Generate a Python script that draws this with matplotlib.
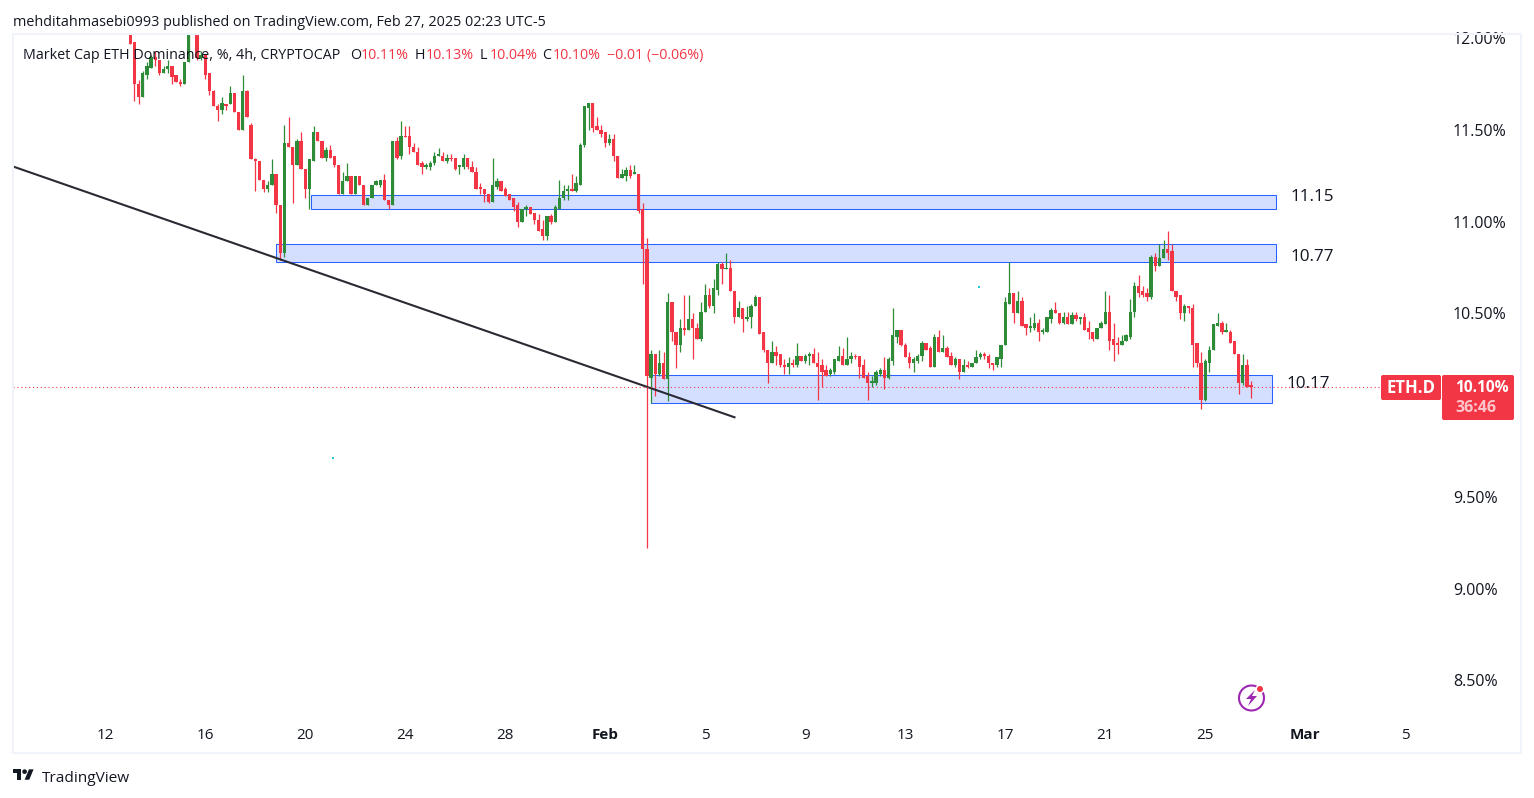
"""ETH dominance 4h chart, TradingView style."""
import matplotlib
matplotlib.use("Agg")
import matplotlib.dates as mdates
import matplotlib.pyplot as plt
import pandas as pd
from matplotlib.patches import Arc, Circle, FancyBboxPatch, Polygon, Rectangle

W, H = 1534, 798
FONT = "Open Sans"
RED = "#F23645"
GREEN = "#2E8B38"
BLUE = "#2962FF"
INK = "#131722"

plt.rcParams["font.family"] = [FONT, "DejaVu Sans"]

# 4h candles, first one Jan 13 00:00
first_candle = "2025-01-13 00:00"

open_ = [
    12.06, 11.98, 11.75, 11.68, 11.80, 11.84, 11.90, 11.88, 11.81, 11.83,
    11.85, 11.80, 11.76, 11.75, 11.87, 12.10, 12.08, 11.89, 11.91, 11.81,
    11.71, 11.63, 11.61, 11.64, 11.64, 11.70, 11.60, 11.50, 11.71, 11.53,
    11.34, 11.33, 11.23, 11.18, 11.20, 11.26, 11.09, 10.83, 11.43, 11.41,
    11.31, 11.44, 11.29, 11.18, 11.33, 11.49, 11.44, 11.35, 11.39, 11.36,
    11.31, 11.15, 11.22, 11.25, 11.15, 11.25, 11.20, 11.09, 11.13, 11.20,
    11.20, 11.23, 11.12, 11.09, 11.44, 11.36, 11.47, 11.47, 11.41, 11.38,
    11.32, 11.30, 11.30, 11.32, 11.36, 11.36, 11.33, 11.35, 11.35, 11.30,
    11.30, 11.35, 11.30, 11.27, 11.19, 11.18, 11.15, 11.11, 11.19, 11.22,
    11.18, 11.15, 11.13, 11.09, 11.00, 11.07, 11.08, 11.05, 11.01, 10.96,
    10.92, 11.03, 11.00, 11.07, 11.13, 11.17, 11.18, 11.17, 11.20, 11.42,
    11.62, 11.65, 11.52, 11.50, 11.49, 11.43, 11.45, 11.36, 11.24, 11.25,
    11.28, 11.26, 11.26, 11.07, 10.85, 10.15, 10.28, 10.17, 10.23, 10.14,
    10.56, 10.40, 10.33, 10.42, 10.41, 10.47, 10.42, 10.36, 10.51, 10.60,
    10.54, 10.63, 10.77, 10.74, 10.75, 10.62, 10.48, 10.53, 10.47, 10.48,
    10.54, 10.59, 10.40, 10.30, 10.23, 10.29, 10.28, 10.22, 10.21, 10.23,
    10.22, 10.27, 10.24, 10.27, 10.28, 10.23, 10.22, 10.19, 10.17, 10.18,
    10.24, 10.27, 10.22, 10.25, 10.27, 10.27, 10.22, 10.16, 10.12, 10.12,
    10.17, 10.19, 10.15, 10.24, 10.37, 10.41, 10.33, 10.26, 10.23, 10.24,
    10.27, 10.34, 10.31, 10.21, 10.37, 10.29, 10.31, 10.27, 10.22, 10.25,
    10.18, 10.22, 10.21, 10.23, 10.26, 10.28, 10.27, 10.23, 10.22, 10.25,
    10.33, 10.55, 10.61, 10.50, 10.57, 10.44, 10.42, 10.42, 10.45, 10.40,
    10.40, 10.47, 10.52, 10.50, 10.45, 10.48, 10.44, 10.49, 10.47, 10.48,
    10.42, 10.40, 10.36, 10.42, 10.44, 10.51, 10.36, 10.34, 10.33, 10.35,
    10.37, 10.51, 10.65, 10.62, 10.61, 10.59, 10.81, 10.76, 10.80, 10.85,
    10.84, 10.62, 10.60, 10.50, 10.54, 10.53, 10.34, 10.23, 10.03, 10.23,
    10.30, 10.43, 10.45, 10.40, 10.40, 10.35, 10.28, 10.12, 10.22, 10.11,
]
high = [
    12.08, 11.98, 11.77, 11.82, 11.87, 11.91, 11.93, 11.88, 11.85, 11.88,
    11.85, 11.80, 11.78, 11.87, 12.08, 12.14, 12.10, 11.93, 11.91, 11.81,
    11.72, 11.64, 11.68, 11.64, 11.74, 11.70, 11.60, 11.80, 11.72, 11.54,
    11.35, 11.33, 11.23, 11.22, 11.34, 11.26, 11.09, 11.53, 11.57, 11.41,
    11.45, 11.49, 11.29, 11.34, 11.52, 11.49, 11.44, 11.41, 11.42, 11.36,
    11.31, 11.27, 11.32, 11.25, 11.25, 11.25, 11.20, 11.13, 11.20, 11.23,
    11.23, 11.26, 11.12, 11.44, 11.46, 11.55, 11.52, 11.52, 11.43, 11.41,
    11.33, 11.32, 11.33, 11.38, 11.40, 11.38, 11.37, 11.37, 11.35, 11.31,
    11.37, 11.35, 11.33, 11.30, 11.21, 11.18, 11.15, 11.35, 11.24, 11.22,
    11.19, 11.15, 11.13, 11.11, 11.07, 11.09, 11.08, 11.05, 11.04, 11.01,
    11.03, 11.04, 11.09, 11.23, 11.20, 11.20, 11.26, 11.25, 11.43, 11.63,
    11.65, 11.65, 11.57, 11.53, 11.49, 11.48, 11.48, 11.36, 11.29, 11.30,
    11.31, 11.31, 11.26, 11.10, 10.91, 10.30, 10.28, 10.30, 10.29, 10.61,
    10.56, 10.40, 10.47, 10.60, 10.60, 10.50, 10.45, 10.56, 10.66, 10.64,
    10.69, 10.78, 10.78, 10.83, 10.79, 10.62, 10.57, 10.53, 10.54, 10.55,
    10.60, 10.59, 10.40, 10.30, 10.35, 10.32, 10.28, 10.25, 10.26, 10.25,
    10.34, 10.27, 10.28, 10.29, 10.31, 10.29, 10.25, 10.22, 10.20, 10.25,
    10.32, 10.31, 10.37, 10.29, 10.28, 10.27, 10.25, 10.18, 10.16, 10.19,
    10.20, 10.26, 10.26, 10.53, 10.41, 10.41, 10.34, 10.29, 10.26, 10.28,
    10.35, 10.34, 10.32, 10.39, 10.41, 10.38, 10.32, 10.29, 10.26, 10.25,
    10.25, 10.24, 10.23, 10.30, 10.29, 10.29, 10.28, 10.23, 10.26, 10.33,
    10.59, 10.78, 10.61, 10.62, 10.59, 10.44, 10.48, 10.50, 10.47, 10.42,
    10.48, 10.53, 10.56, 10.50, 10.51, 10.51, 10.51, 10.51, 10.48, 10.50,
    10.46, 10.40, 10.42, 10.46, 10.62, 10.60, 10.45, 10.37, 10.38, 10.39,
    10.58, 10.67, 10.71, 10.65, 10.64, 10.82, 10.83, 10.88, 10.90, 10.95,
    10.88, 10.62, 10.60, 10.55, 10.54, 10.55, 10.34, 10.29, 10.25, 10.32,
    10.44, 10.50, 10.46, 10.45, 10.41, 10.35, 10.28, 10.28, 10.25, 10.13,
]
low = [
    11.97, 11.66, 11.64, 11.68, 11.78, 11.84, 11.85, 11.80, 11.81, 11.81,
    11.75, 11.76, 11.74, 11.75, 11.87, 12.08, 11.88, 11.88, 11.78, 11.69,
    11.63, 11.55, 11.59, 11.61, 11.64, 11.60, 11.50, 11.50, 11.57, 11.34,
    11.17, 11.23, 11.16, 11.16, 11.20, 11.05, 10.79, 10.81, 11.41, 11.10,
    11.31, 11.29, 11.13, 11.07, 11.33, 11.44, 11.35, 11.33, 11.35, 11.30,
    11.15, 11.15, 11.22, 11.15, 11.15, 11.20, 11.09, 11.09, 11.13, 11.20,
    11.19, 11.12, 11.07, 11.09, 11.34, 11.34, 11.46, 11.37, 11.38, 11.31,
    11.26, 11.29, 11.28, 11.31, 11.36, 11.33, 11.32, 11.33, 11.28, 11.26,
    11.29, 11.29, 11.27, 11.18, 11.15, 11.11, 11.10, 11.11, 11.18, 11.17,
    11.14, 11.12, 11.06, 10.97, 11.00, 11.03, 11.04, 10.99, 10.95, 10.90,
    10.90, 10.99, 11.00, 11.07, 11.12, 11.12, 11.17, 11.16, 11.20, 11.41,
    11.50, 11.49, 11.50, 11.46, 11.41, 11.42, 11.33, 11.24, 11.24, 11.22,
    11.24, 11.26, 11.05, 10.66, 9.22, 10.01, 10.05, 10.16, 10.14, 10.02,
    10.35, 10.20, 10.29, 10.38, 10.41, 10.25, 10.36, 10.35, 10.51, 10.53,
    10.50, 10.60, 10.66, 10.74, 10.62, 10.45, 10.48, 10.40, 10.46, 10.42,
    10.54, 10.39, 10.29, 10.12, 10.23, 10.22, 10.21, 10.17, 10.17, 10.21,
    10.21, 10.24, 10.23, 10.22, 10.23, 10.03, 10.10, 10.16, 10.16, 10.17,
    10.24, 10.22, 10.22, 10.23, 10.25, 10.15, 10.15, 10.03, 10.10, 10.11,
    10.16, 10.09, 10.14, 10.22, 10.34, 10.32, 10.26, 10.20, 10.18, 10.23,
    10.24, 10.30, 10.21, 10.21, 10.29, 10.29, 10.26, 10.22, 10.21, 10.14,
    10.18, 10.20, 10.21, 10.23, 10.25, 10.25, 10.20, 10.19, 10.21, 10.21,
    10.33, 10.55, 10.45, 10.50, 10.43, 10.38, 10.40, 10.41, 10.35, 10.39,
    10.40, 10.45, 10.50, 10.44, 10.44, 10.44, 10.44, 10.46, 10.44, 10.41,
    10.36, 10.35, 10.36, 10.42, 10.44, 10.30, 10.24, 10.28, 10.33, 10.35,
    10.36, 10.48, 10.59, 10.59, 10.57, 10.58, 10.73, 10.76, 10.80, 10.79,
    10.62, 10.57, 10.47, 10.46, 10.50, 10.21, 10.21, 9.98, 10.02, 10.18,
    10.30, 10.43, 10.39, 10.40, 10.34, 10.28, 10.06, 10.11, 10.10, 10.04,
]
close = [
    11.97, 11.75, 11.68, 11.81, 11.85, 11.90, 11.88, 11.81, 11.83, 11.85,
    11.79, 11.76, 11.75, 11.87, 12.06, 12.12, 11.89, 11.91, 11.80, 11.71,
    11.63, 11.61, 11.65, 11.63, 11.70, 11.60, 11.50, 11.71, 11.57, 11.34,
    11.33, 11.23, 11.18, 11.20, 11.26, 11.09, 10.83, 11.43, 11.41, 11.31,
    11.44, 11.29, 11.18, 11.34, 11.49, 11.44, 11.35, 11.39, 11.35, 11.31,
    11.15, 11.22, 11.25, 11.15, 11.25, 11.20, 11.09, 11.13, 11.20, 11.22,
    11.23, 11.12, 11.09, 11.44, 11.35, 11.47, 11.46, 11.41, 11.38, 11.31,
    11.30, 11.31, 11.32, 11.36, 11.37, 11.33, 11.35, 11.34, 11.29, 11.31,
    11.35, 11.30, 11.27, 11.18, 11.18, 11.15, 11.11, 11.20, 11.22, 11.17,
    11.14, 11.12, 11.08, 11.00, 11.07, 11.08, 11.04, 11.01, 10.95, 10.92,
    11.03, 11.00, 11.08, 11.13, 11.17, 11.18, 11.17, 11.21, 11.42, 11.63,
    11.65, 11.51, 11.50, 11.48, 11.43, 11.45, 11.36, 11.24, 11.26, 11.28,
    11.25, 11.27, 11.06, 10.85, 10.16, 10.28, 10.17, 10.23, 10.14, 10.56,
    10.40, 10.33, 10.42, 10.41, 10.47, 10.42, 10.36, 10.51, 10.60, 10.54,
    10.64, 10.77, 10.74, 10.75, 10.62, 10.48, 10.53, 10.47, 10.48, 10.54,
    10.59, 10.39, 10.30, 10.23, 10.29, 10.27, 10.22, 10.21, 10.23, 10.22,
    10.27, 10.24, 10.27, 10.28, 10.23, 10.21, 10.18, 10.16, 10.19, 10.25,
    10.27, 10.22, 10.25, 10.27, 10.26, 10.21, 10.15, 10.12, 10.13, 10.18,
    10.19, 10.15, 10.25, 10.38, 10.41, 10.33, 10.26, 10.23, 10.25, 10.27,
    10.34, 10.30, 10.21, 10.37, 10.29, 10.31, 10.26, 10.22, 10.25, 10.18,
    10.22, 10.21, 10.23, 10.26, 10.28, 10.27, 10.23, 10.22, 10.26, 10.33,
    10.56, 10.61, 10.50, 10.57, 10.43, 10.42, 10.43, 10.45, 10.40, 10.41,
    10.48, 10.52, 10.50, 10.45, 10.48, 10.44, 10.49, 10.47, 10.48, 10.41,
    10.40, 10.36, 10.42, 10.45, 10.51, 10.35, 10.33, 10.33, 10.35, 10.38,
    10.51, 10.65, 10.61, 10.60, 10.59, 10.81, 10.76, 10.80, 10.85, 10.83,
    10.62, 10.59, 10.50, 10.54, 10.53, 10.33, 10.23, 10.03, 10.24, 10.30,
    10.44, 10.45, 10.40, 10.41, 10.34, 10.28, 10.12, 10.22, 10.10, 10.10,
]

# support / resistance zones
zone_start = ["2025-01-20 05:00", "2025-01-18 20:00", "2025-02-02 20:00"]
zone_end = ["2025-02-27 20:00", "2025-02-27 20:00", "2025-02-27 16:00"]
zone_top = [11.143, 10.876, 10.162]
zone_bottom = [11.069, 10.783, 10.01]

trend_dates = ["2025-01-08 07:00", "2025-02-06 04:00"]
trend_values = [11.302, 9.934]

dot_dates = ["2025-01-21 03:00", "2025-02-15 23:00"]
dot_values = [9.71, 10.643]

price_ticks = [12.0, 11.5, 11.0, 10.5, 9.5, 9.0, 8.5]
date_ticks = ["2025-01-12", "2025-01-16", "2025-01-20", "2025-01-24", "2025-01-28",
              "2025-02-01", "2025-02-05", "2025-02-09", "2025-02-13", "2025-02-17",
              "2025-02-21", "2025-02-25", "2025-03-01", "2025-03-05"]
date_labels = ["12", "16", "20", "24", "28", "Feb", "5", "9", "13", "17", "21", "25", "Mar", "5"]
last_price = 10.10


def num(s):
    return mdates.date2num(pd.Timestamp(s))


fig = plt.figure(figsize=(W / 100, H / 100), dpi=100, facecolor="white")
ax = fig.add_axes([13 / W, 1 - 717 / H, (1441 - 13) / W, (717 - 34) / H])

times = pd.date_range(first_candle, periods=len(open_), freq="4h")
x = mdates.date2num(times)
df = pd.DataFrame({"o": open_, "h": high, "l": low, "c": close}, index=x)
colors = [GREEN if c >= o else RED for o, c in zip(df.o, df.c)]

for start, end, top, bottom in zip(zone_start, zone_end, zone_top, zone_bottom):
    ax.add_patch(Rectangle((num(start), bottom), num(end) - num(start), top - bottom,
                           facecolor=BLUE + "33", edgecolor=BLUE, lw=0.75, zorder=2))

ax.vlines(df.index, df.l, df.h, colors=colors, lw=0.9, zorder=3)
ax.bar(df.index, (df.c - df.o).abs().clip(lower=0.006), bottom=df[["o", "c"]].min(axis=1),
       width=0.135, color=colors, linewidth=0, zorder=4)

ax.plot([num(d) for d in trend_dates], trend_values, color="#2A2A35", lw=1.5, zorder=5)
ax.scatter([num(d) for d in dot_dates], dot_values, marker="s", s=3.5, color="#26C6DA",
           linewidth=0, zorder=5)
ax.axhline(last_price, color=RED, lw=0.8, ls=(0, (1, 2.5)), zorder=5)

# 25 px per day, Jan 12 sits at x=105.3
day0 = num("2025-01-12")
ax.set_xlim(day0 + (13 - 105.3) / 25, day0 + (1441 - 105.3) / 25)
ax.set_ylim(12 - (717 - 38.3) / 183.43, 12 + 4.3 / 183.43)

ax.set_xticks([num(d) for d in date_ticks])
ax.set_xticklabels(date_labels)
for lab in ax.get_xticklabels():
    if lab.get_text() in ("Feb", "Mar"):
        lab.set_fontweight("bold")
ax.yaxis.tick_right()
ax.set_yticks(price_ticks)
ax.set_yticklabels([f"{p:.2f}%" for p in price_ticks])
ax.tick_params(axis="x", length=0, pad=8, labelsize=11, labelcolor=INK)
ax.tick_params(axis="y", length=0, pad=8.5, labelsize=11.5, labelcolor=INK)
for sp in ax.spines.values():
    sp.set_visible(False)

# page furniture, in pixels
ov = fig.add_axes([0, 0, 1, 1], zorder=10)
ov.set_xlim(0, W)
ov.set_ylim(H, 0)
ov.axis("off")
ov.patch.set_alpha(0)

ov.add_patch(Rectangle((13, 34), 1508, 719, fill=False, ec="#F0F3FA", lw=1.5))

ov.text(13, 22, "mehditahmasebi0993 published on TradingView.com, Feb 27, 2025 02:23 UTC-5",
        fontsize=10.35, color=INK, va="center")

legend_parts = [
    (23, "Market Cap ETH Dominance, %, 4h, CRYPTOCAP", INK),
    (350, "O", INK), (361, "10.11%", RED),
    (415, "H", INK), (426, "10.13%", RED),
    (480, "L", INK), (490, "10.04%", RED),
    (542, "C", INK), (553, "10.10%", RED),
    (607, "\u22120.01 (\u22120.06%)", RED),
]
for px, txt, col in legend_parts:
    ov.text(px, 55.5, txt, fontsize=10.3, color=col, va="center")

for px, py, txt in [(1291, 197, "11.15"), (1291, 257, "10.77"), (1287, 384, "10.17")]:
    ov.text(px, py, txt, fontsize=12.3, color=INK, va="center")

# last price tags
ov.add_patch(FancyBboxPatch((1382, 376), 58, 23, boxstyle="round,pad=1,rounding_size=2",
                            fc=RED, ec="none"))
ov.add_patch(FancyBboxPatch((1443, 376), 70, 43, boxstyle="round,pad=1,rounding_size=2",
                            fc=RED, ec="none"))
ov.text(1411.5, 388, "ETH.D", fontsize=12, fontweight="bold", color="white", ha="center", va="center")
ov.text(1482, 388, "10.10%", fontsize=11.2, fontweight="bold", color="white", ha="center", va="center")
ov.text(1476, 407.5, "36:46", fontsize=11.5, fontweight="bold", color="#FFC4CB", ha="center", va="center")

# lightning badge
ov.add_patch(Arc((1251.5, 698), 25, 25, theta1=0, theta2=360, color="#9C27B0", lw=1.5))
ov.add_patch(Circle((1260, 689), 4.5, fc="white", ec="none"))
ov.add_patch(Circle((1260, 689), 3, fc=RED, ec="none"))
ov.add_patch(Polygon([(1255, 690), (1246, 699), (1251, 699), (1248, 706), (1257, 696), (1252, 696)],
                     fc="#9C27B0", ec="none"))

# TV logo
lx, ly, s = 13, 767, 0.58
ov.add_patch(Polygon([(lx + u * s, ly + v * s) for u, v in
                      [(0, 4), (14, 4), (14, 22), (7, 22), (7, 11), (0, 11)]], fc=INK, ec="none"))
ov.add_patch(Polygon([(lx + u * s, ly + v * s) for u, v in
                      [(27.5, 4), (35.5, 4), (28, 22), (20, 22)]], fc=INK, ec="none"))
ov.add_patch(Circle((lx + 20 * s, ly + 8 * s), 4 * s, fc=INK, ec="none"))
ov.text(42, 778.5, "TradingView", fontsize=11.1, color=INK, va="center")

fig.savefig("out.png", dpi=100)
